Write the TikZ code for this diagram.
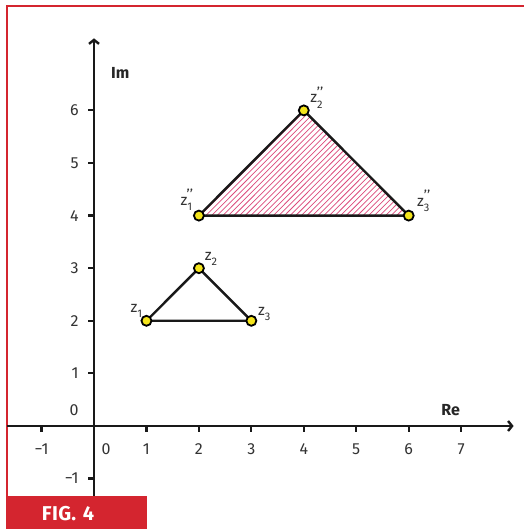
\documentclass[tikz,border=0pt]{standalone}
\usepackage{fontspec}
\setmainfont{Fira Sans}
\usetikzlibrary{arrows.meta}
\definecolor{frame}{HTML}{D4252F}
\definecolor{hatch}{HTML}{DC4A7C}
\definecolor{pt}{HTML}{F4E41C}
\definecolor{txt}{HTML}{333333}
\newcommand{\zl}[1]{z\raisebox{-0.3em}{\fontsize{11}{11}\selectfont #1}}
\newcommand{\zll}[1]{z\raisebox{-0.35em}{\fontsize{11}{11}\selectfont #1}\kern-5.5pt\raisebox{0.38em}{\fontsize{14}{14}\selectfont ’’}}
\tikzset{
  axis/.style={line width=2.4pt, black!90, -{Straight Barb[length=4pt,width=10pt]}},
  tick/.style={line width=2.2pt, black!90},
  num/.style={text=txt, font=\fontsize{16}{16}\selectfont, inner sep=0pt},
  axlab/.style={text=black!85, font=\fontsize{16}{16}\selectfont\bfseries, inner sep=0pt},
  plab/.style={text=txt, font=\fontsize{15.5}{15.5}\selectfont, inner sep=0pt},
  pnt/.style={circle, draw=black, line width=1.8pt, fill=pt, minimum size=10pt, inner sep=0pt},
  tri/.style={line width=2.4pt, black!90},
}
\begin{document}
\begin{tikzpicture}[x=1pt,y=1pt]
\useasboundingbox (0,0) rectangle (524,529);
\fill[white] (0,0) rectangle (524,529);
% frame
\draw[frame, line width=2.4pt] (7,0) -- (7,523) -- (524,523);
\begin{scope}[shift={(94pt,103pt)}, x=52.45pt, y=52.6pt]
  % axes
  \coordinate (xs) at (-1.66,0);
  \coordinate (xe) at (8.0,0);
  \coordinate (ys) at (0,-2.0);
  \coordinate (ye) at (0,7.37);
  \draw[axis] (xs) -- (xe);
  \draw[axis] (ys) -- (ye);
  \foreach \i in {-1,1,2,3,4,5,6,7} {
    \draw[tick] (\i,0) -- (\i,-0.12);
    \node[num] at (\i,-0.44) {\ifnum\i<0 −1\else\i\fi};
  }
  \foreach \i in {-1,1,2,3,4,5,6} {
    \draw[tick] (0,\i) -- (-0.12,\i);
    \node[num, anchor=east] at (-0.29,\i) {\ifnum\i<0 −1\else\i\fi};
  }
  \node[num] at (0.23,-0.44) {0};
  \node[num, anchor=east] at (-0.29,0.3) {0};
  \node[axlab] (im) at (0.5,6.71) {Im};
  \node[axlab] (re) at (6.8,0.3) {Re};
  % points
  \coordinate (a1) at (1,2);
  \coordinate (a2) at (2,3);
  \coordinate (a3) at (3,2);
  \coordinate (b1) at (2,4);
  \coordinate (b2) at (4,6);
  \coordinate (b3) at (6,4);
  % hatching
  \begin{scope}
    \clip (b1) -- (b2) -- (b3) -- cycle;
    \foreach \i in {0,...,60} {
      \draw[hatch, line width=0.75pt] (\i*0.107,3.9) -- ++(2.3,2.3);
    }
  \end{scope}
  \draw[tri] (a1) -- (a2) -- (a3) -- cycle;
  \draw[tri] (b1) -- (b2) -- (b3) -- cycle;
  \foreach \p in {a1,a2,a3,b1,b2,b3} \node[pnt] (n\p) at (\p) {};
  \node[plab] (la1) at ([shift={(-10pt,10pt)}]a1) {\zl{1}};
  \node[plab] (la2) at ([shift={(12pt,9pt)}]a2) {\zl{2}};
  \node[plab] (la3) at ([shift={(13pt,7pt)}]a3) {\zl{3}};
  \node[plab] (lb1) at ([shift={(-12pt,16pt)}]b1) {\zll{1}};
  \node[plab] (lb2) at ([shift={(13pt,13pt)}]b2) {\zll{2}};
  \node[plab] (lb3) at ([shift={(15pt,15pt)}]b3) {\zll{3}};
\end{scope}
% figure tag
\fill[frame] (6,0) rectangle (147,33);
\node[text=white, font=\fontsize{20}{20}\selectfont\bfseries, inner sep=0pt] (fig) at (68,15) {F\kern0.5pt I\kern0.5pt G.\,\,4};
\end{tikzpicture}
\end{document}
